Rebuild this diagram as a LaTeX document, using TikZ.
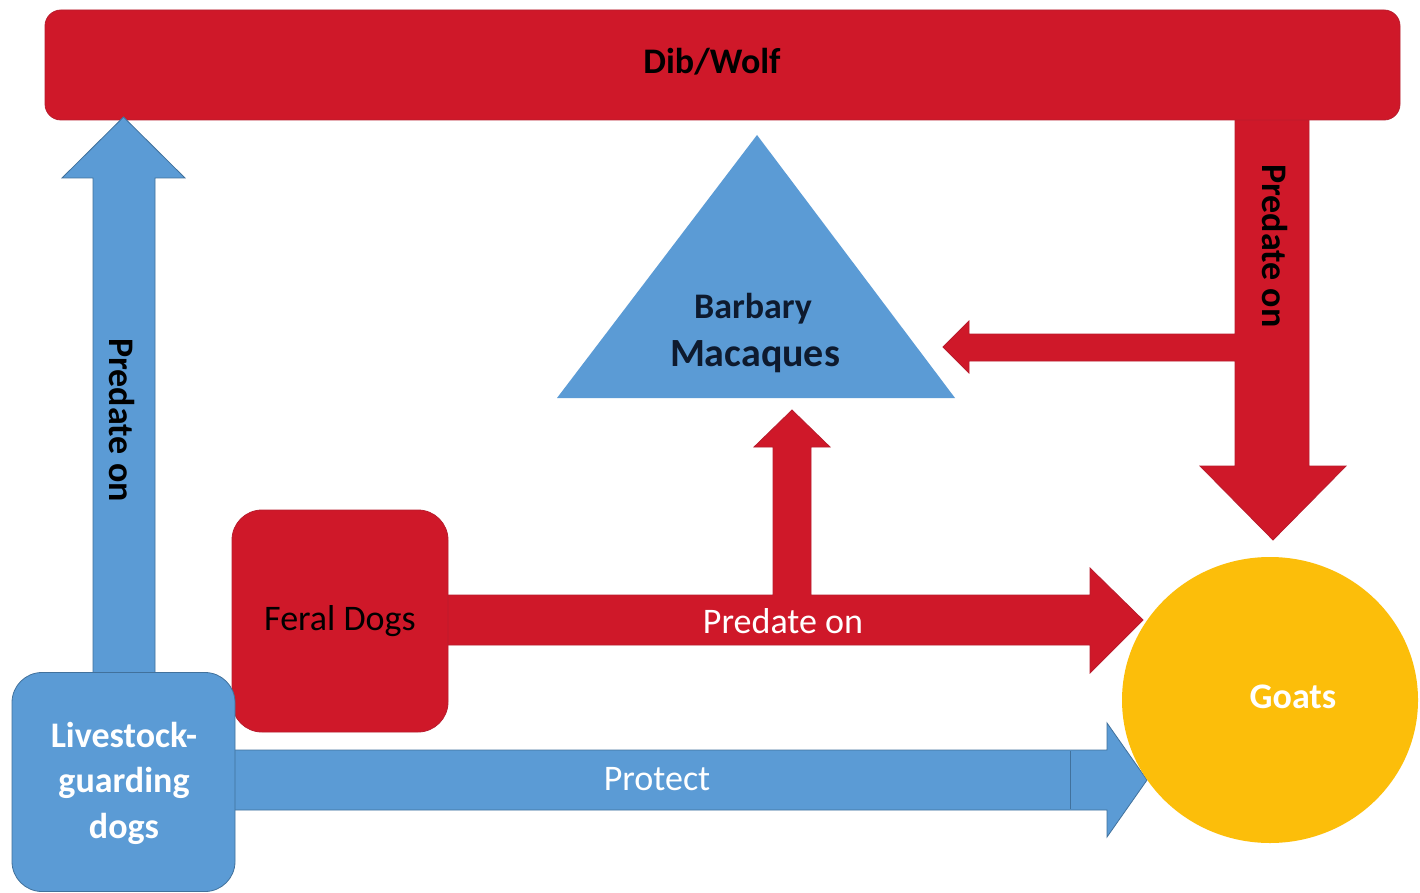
\documentclass[tikz,border=0pt]{standalone}
\usepackage{fontspec}
\setmainfont{Carlito}
\usetikzlibrary{shapes.geometric}
\definecolor{wred}{RGB}{207,24,41}
\definecolor{wredline}{RGB}{185,28,45}
\definecolor{wblue}{RGB}{91,155,213}
\definecolor{wblueline}{RGB}{65,113,156}
\definecolor{wgold}{RGB}{252,190,10}
\definecolor{wnavy}{RGB}{14,26,46}
\tikzset{
  redshape/.style={fill=wred, draw=wredline, line width=0.8pt},
  blueshape/.style={fill=wblue, draw=wblueline, line width=0.8pt},
  regtext/.style={font=\fontsize{36}{45.5}\selectfont, inner sep=0pt, align=center},
  boldtext/.style={font=\bfseries\fontsize{36}{45.5}\selectfont, inner sep=0pt, align=center},
}
\begin{document}
\begin{tikzpicture}[x=1pt,y=-1pt]
\useasboundingbox (0,0) rectangle (1420,893);
\fill[white] (0,0) rectangle (1420,893);

% red arrow from Dib/Wolf down to goats, with branch to macaques
\path[redshape] (1235,112) -- (1235,334) -- (969,334) -- (969,321) -- (943,347) -- (969,373) -- (969,361)
  -- (1235,361) -- (1235,466) -- (1200,466) -- (1273,540) -- (1346,466) -- (1309,466) -- (1309,112) -- cycle;

% Dib/Wolf bar
\node[redshape, rounded corners=16pt, minimum width=1355pt, minimum height=110pt, inner sep=0pt] (wolf) at (722.5,65) {};
\node[boldtext] (wolflbl) at (712,62) {Dib/Wolf};

% vertical label on right arrow
\node[boldtext, rotate=-90] (predR) at (1275,246) {Predate on};

% blue arrow up from livestock dogs to Dib/Wolf
\path[blueshape] (93,676) -- (93,178) -- (62,178) -- (123.5,117) -- (185,178) -- (155,178) -- (155,676) -- cycle;
\node[boldtext, rotate=-90] (predL) at (122,420) {Predate on};

% Barbary macaques triangle
\path[blueshape, draw=none] (757,135) -- (955,398) -- (557,398) -- cycle;
\coordinate (mac) at (756,330);
\node[boldtext, text=wnavy] (macA) at (753,309) {Barbary};
\node[boldtext, text=wnavy, font=\bfseries\fontsize{40}{46}\selectfont] (macB) at (755,357) {Macaques};

% red arrow from feral dogs to goats, with branch up to macaques
\path[redshape] (440,595) -- (773,595) -- (773,447) -- (754,447) -- (792,410) -- (830,447) -- (811,447)
  -- (811,595) -- (1090,595) -- (1090,568) -- (1143,620) -- (1090,673) -- (1090,645) -- (440,645) -- cycle;
\node[regtext, text=white] (predH) at (783,621) {Predate on};

% blue protect arrow
\path[blueshape] (230,750) -- (1107,750) -- (1107,723) -- (1147,780) -- (1107,837) -- (1107,810) -- (230,810) -- cycle;
\draw[wblueline, line width=0.8pt] (1070,751) -- (1070,809);
\node[regtext, text=white] (protect) at (657,779) {Protect};

% Feral dogs box
\node[redshape, rounded corners=30pt, minimum width=216pt, minimum height=222pt, inner sep=0pt] (feral) at (340,621) {};
\node[regtext] (ferallbl) at (340,621) {Feral Dogs};

% Livestock-guarding dogs box
\node[blueshape, rounded corners=30pt, minimum width=223pt, minimum height=219pt, inner sep=0pt] (lgd) at (123.5,782) {};
\node[boldtext, text=white] (lgdlbl) at (124,783) {Livestock-\\guarding\\dogs};

% Goats
\node[ellipse, fill=wgold, draw=none, minimum width=296pt, minimum height=286pt, inner sep=0pt] (goats) at (1270,700) {};
\node[boldtext, text=white] (goatslbl) at (1293,697) {Goats};
\end{tikzpicture}
\end{document}
